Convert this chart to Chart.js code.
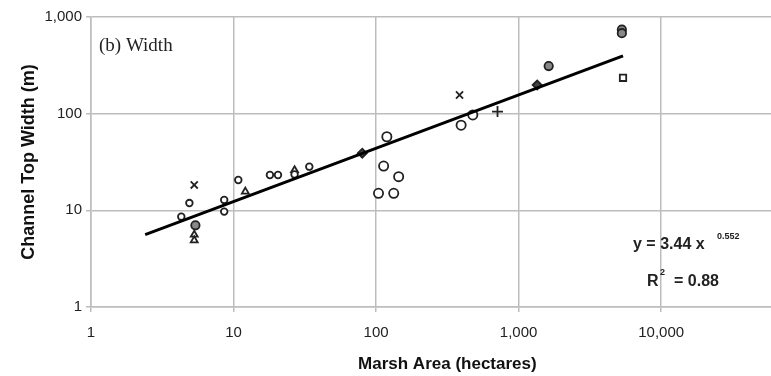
<!DOCTYPE html>
<html><head><meta charset="utf-8">
<script src="https://cdn.jsdelivr.net/npm/chart.js@4.4.1/dist/chart.umd.min.js"></script>
<style>html,body{margin:0;padding:0;overflow:hidden;background:#fff}
#wrap{position:relative;width:811px;height:376px}</style></head>
<body><div id="wrap"><canvas id="c"></canvas></div>
<script>
// tick labels
const xTickValues = [1, 10, 100, 1000, 10000];
const yTickValues = [1, 10, 100, 1000];
// fitted power law line end points
const trendX = [2.4, 5400];
const trendY = [5.6, 396];
// open small circles
const smallCircleX = [4.3, 4.9, 8.6, 8.6, 10.8, 18, 20.5, 26.8, 34];
const smallCircleY = [8.6, 11.9, 12.8, 9.7, 20.6, 23.2, 23.2, 23.5, 28.3];
// open larger circles
const circleX = [104, 133, 113, 144, 119, 395, 477];
const circleY = [15, 15, 28.7, 22.3, 57.7, 76, 97];
// open triangles
const triangleX = [5.3, 5.3, 12.1, 26.8];
const triangleY = [5.6, 4.9, 15.6, 26];
// x marks
const xMarkX = [5.3, 385];
const xMarkY = [18.3, 156];
// plus mark
const plusX = [711];
const plusY = [105];
// open square
const squareX = [5400];
const squareY = [235];
// filled diamonds
const diamondX = [80, 1350];
const diamondY = [39, 198];
// shaded circles
const shadedX = [5.4, 1625, 5300, 5300];
const shadedY = [7.0, 311, 740, 680];

const pts = (xs, ys) => xs.map((x, i) => ({x, y: ys[i]}));
const GRID = '#bdbdbd';

function mk(label, xs, ys, style, r, fill) {
  return {type: 'scatter', label, data: pts(xs, ys), pointStyle: style, pointRadius: r,
    pointHoverRadius: r, pointBorderColor: '#222', pointBackgroundColor: fill || '#fff',
    pointBorderWidth: 1.8, borderColor: '#222', backgroundColor: fill || '#fff'};
}

const annot = {
  id: 'annot',
  afterDraw(chart) {
    const ctx = chart.ctx;
    ctx.save();
    ctx.fillStyle = '#222';
    ctx.textBaseline = 'alphabetic';
    ctx.textAlign = 'left';
    ctx.font = '19px "Liberation Serif", "Times New Roman", serif';
    ctx.fillText('(b) Width', 99, 51);
    ctx.font = 'bold 16px "Liberation Sans", Arial, sans-serif';
    ctx.fillText('y = 3.44 x', 633, 249);
    ctx.font = 'bold 9px "Liberation Sans", Arial, sans-serif';
    ctx.fillText('0.552', 717, 239);
    ctx.font = 'bold 16px "Liberation Sans", Arial, sans-serif';
    ctx.fillText('R', 647, 286);
    ctx.font = 'bold 9px "Liberation Sans", Arial, sans-serif';
    ctx.fillText('2', 660, 275);
    ctx.font = 'bold 16px "Liberation Sans", Arial, sans-serif';
    ctx.fillText('= 0.88', 674, 286);
    ctx.restore();
  }
};

new Chart(document.getElementById('c'), {
  type: 'scatter',
  data: {
    datasets: [
      {type: 'line', label: 'fit', data: pts(trendX, trendY), borderColor: '#000',
        borderWidth: 3, pointRadius: 0, showLine: true, fill: false},
      mk('small circles', smallCircleX, smallCircleY, 'circle', 3.3),
      mk('circles', circleX, circleY, 'circle', 4.6),
      mk('triangles', triangleX, triangleY, 'triangle', 4),
      mk('x marks', xMarkX, xMarkY, 'crossRot', 5),
      mk('plus', plusX, plusY, 'cross', 5.5),
      mk('square', squareX, squareY, 'rect', 4.5),
      mk('diamonds', diamondX, diamondY, 'rectRot', 4.5, '#444'),
      mk('shaded', shadedX, shadedY, 'circle', 4.2, '#888')
    ]
  },
  options: {
    responsive: true, maintainAspectRatio: false, animation: false,
    layout: {padding: {top: 17, left: 0, right: 0, bottom: 0}},
    plugins: {legend: {display: false}, tooltip: {enabled: false}},
    scales: {
      x: {
        type: 'logarithmic', min: 1, max: 100000,
        afterBuildTicks: s => { s.ticks = xTickValues.map(v => ({value: v})); },
        afterFit: s => { s.height = 69; },
        grid: {color: GRID, lineWidth: 1.5, tickLength: 5, drawTicks: true},
        border: {display: true, color: GRID, width: 1.5},
        ticks: {padding: 12, color: '#222', maxRotation: 0, autoSkip: false,
          font: {family: '"Liberation Sans", Arial, sans-serif', size: 15},
          callback: v => Number(v).toLocaleString('en-US')},
        title: {display: true, text: 'Marsh Area (hectares)', color: '#111',
          padding: {top: 0, bottom: 1},
          font: {family: '"Liberation Sans", Arial, sans-serif', size: 17, weight: 'bold'}}
      },
      y: {
        type: 'logarithmic', min: 1, max: 1000,
        afterBuildTicks: s => { s.ticks = yTickValues.map(v => ({value: v})); },
        afterFit: s => { s.width = 91; },
        grid: {color: GRID, lineWidth: 1.5, tickLength: 5, drawTicks: true},
        border: {display: true, color: GRID, width: 1.5},
        ticks: {padding: 4, color: '#222', autoSkip: false,
          font: {family: '"Liberation Sans", Arial, sans-serif', size: 15},
          callback: v => Number(v).toLocaleString('en-US')},
        title: {display: true, text: 'Channel Top Width (m)', color: '#111',
          padding: {top: 18, bottom: 0},
          font: {family: '"Liberation Sans", Arial, sans-serif', size: 18, weight: 'bold'}}
      }
    }
  },
  plugins: [annot]
});
</script></body></html>
